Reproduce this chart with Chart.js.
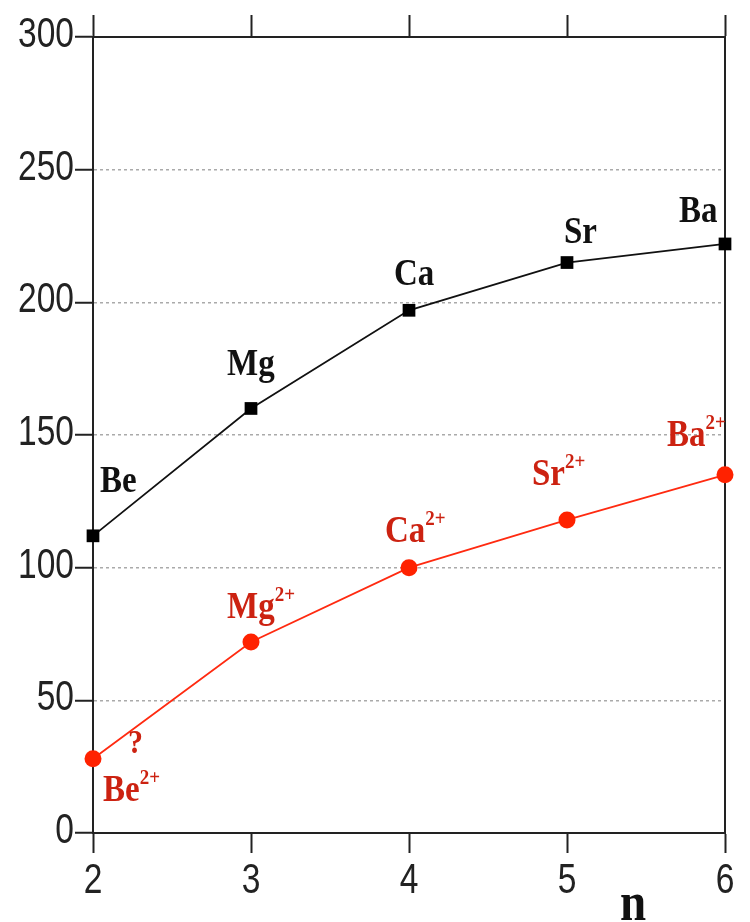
<!DOCTYPE html>
<html>
<head>
<meta charset="utf-8">
<script src="https://cdn.jsdelivr.net/npm/chart.js@4"></script>
<style>
  html, body { margin: 0; padding: 0; background: #fff; }
  #wrap { width: 750px; height: 922px; position: relative; }
</style>
</head>
<body>
<div id="wrap"><canvas id="chart"></canvas></div>
<script>
// valores
const nValues = [2, 3, 4, 5, 6];
const atomLabels = ['Be', 'Mg', 'Ca', 'Sr', 'Ba'];
const atomValues = [112, 160, 197, 215, 222];
const ionLabels = ['Be', 'Mg', 'Ca', 'Sr', 'Ba'];
const ionCharge = '2+';
const ionValues = [28, 72, 100, 118, 135];
const yTicks = [0, 50, 100, 150, 200, 250, 300];
const xTicks = [2, 3, 4, 5, 6];
const axisTitle = 'n';

const axisColor = '#222';
const redLine = '#ff2a10';
const redText = '#cc2211';

// deslocamento dos rótulos em relação ao ponto (texto, linha de base)
const atomOffsets = [[7, -44], [-24, -33], [-15, -25], [-3, -20], [-46, -22]];
const ionOffsets = [[10, 42], [-24, -24], [-24, -26], [-35, -35], [-58, -29]];

const stretch = 1.15;

// texto esticado (a figura original é mais alta que larga)
function drawText(ctx, text, x, y, font, sx = 1, sy = stretch) {
	ctx.save();
	ctx.font = font;
	ctx.translate(x, y);
	ctx.scale(sx, sy);
	ctx.fillText(text, 0, 0);
	const w = ctx.measureText(text).width * sx;
	ctx.restore();
	return w;
}

// rótulos dos eixos desenhados com fonte estreita
const tickLabelsPlugin = {
	id: 'narrowTicks',
	afterDraw(chart) {
		const ctx = chart.ctx;
		const tickFont = '43px "Liberation Sans", Arial, sans-serif';
		const area = chart.chartArea;
		ctx.save();
		ctx.fillStyle = axisColor;
		ctx.textBaseline = 'alphabetic';

		ctx.textAlign = 'right';
		for (const t of chart.scales.y.ticks) {
			const y = chart.scales.y.getPixelForValue(t.value);
			drawText(ctx, String(t.value), area.left - 19, y + 10, tickFont, 0.78, 1);
		}

		ctx.textAlign = 'center';
		for (const t of chart.scales.x.ticks) {
			const x = chart.scales.x.getPixelForValue(t.value);
			drawText(ctx, String(t.value), x, area.bottom + 60, tickFont, 0.78, 1);
		}
		ctx.restore();
	}
};

const labelsPlugin = {
	id: 'pointLabels',
	afterDatasetsDraw(chart) {
		const ctx = chart.ctx;
		ctx.save();
		ctx.textAlign = 'left';
		ctx.textBaseline = 'alphabetic';

		// átomos neutros
		ctx.fillStyle = '#111';
		chart.getDatasetMeta(0).data.forEach((pt, i) => {
			const [dx, dy] = atomOffsets[i];
			drawText(ctx, atomLabels[i], pt.x + dx, pt.y + dy, 'bold 33px "Liberation Serif", serif');
		});

		// íons
		ctx.fillStyle = redText;
		chart.getDatasetMeta(1).data.forEach((pt, i) => {
			const [dx, dy] = ionOffsets[i];
			const w = drawText(ctx, ionLabels[i], pt.x + dx, pt.y + dy, 'bold 33px "Liberation Serif", serif');
			drawText(ctx, ionCharge, pt.x + dx + w, pt.y + dy - 17, 'bold 19px "Liberation Serif", serif');
		});

		// ponto de interrogação sobre o primeiro segmento
		const first = chart.getDatasetMeta(1).data[0];
		drawText(ctx, '?', first.x + 35, first.y - 6, 'bold 30px "Liberation Serif", serif');

		// título do eixo x
		ctx.fillStyle = '#111';
		const area = chart.chartArea;
		drawText(ctx, axisTitle, area.right - 105, chart.height - 2, 'bold 47px "Liberation Serif", serif');
		ctx.restore();
	}
};

const data = {
	datasets: [{
		label: 'M',
		data: nValues.map((n, i) => ({ x: n, y: atomValues[i] })),
		borderColor: '#111',
		backgroundColor: '#000',
		borderWidth: 1.8,
		pointStyle: 'rect',
		pointRadius: 9,
		pointBorderWidth: 0,
		clip: false
	}, {
		label: 'M2+',
		data: nValues.map((n, i) => ({ x: n, y: ionValues[i] })),
		borderColor: redLine,
		backgroundColor: '#ff2200',
		borderWidth: 1.8,
		pointStyle: 'circle',
		pointRadius: 8.5,
		pointBorderWidth: 0,
		clip: false
	}]
};

const config = {
	type: 'line',
	data,
	plugins: [labelsPlugin, tickLabelsPlugin],
	options: {
		responsive: true,
		maintainAspectRatio: false,
		animation: false,
		layout: { padding: 0 },
		plugins: { legend: { display: false }, tooltip: { enabled: false } },
		scales: {
			x: {
				type: 'linear',
				position: 'bottom',
				min: 2,
				max: 6,
				afterBuildTicks: s => { s.ticks = xTicks.map(v => ({ value: v })); },
				ticks: { display: false },
				grid: { drawOnChartArea: false, tickLength: 20, tickColor: axisColor, tickWidth: 2, tickBorderDash: [] },
				border: { color: axisColor, width: 2 },
				afterFit: s => { s.height = 89; }
			},
			xTop: {
				type: 'linear',
				position: 'top',
				min: 2,
				max: 6,
				afterBuildTicks: s => { s.ticks = xTicks.map(v => ({ value: v })); },
				ticks: { display: false },
				grid: { drawOnChartArea: false, tickLength: 22, tickColor: axisColor, tickWidth: 2, tickBorderDash: [] },
				border: { color: axisColor, width: 2 },
				afterFit: s => { s.height = 37; }
			},
			y: {
				min: 0,
				max: 300,
				afterBuildTicks: s => { s.ticks = yTicks.map(v => ({ value: v })); },
				ticks: { display: false },
				grid: {
					color: ctx => (ctx.tick && (ctx.tick.value === 0 || ctx.tick.value === 300)) ? 'rgba(0,0,0,0)' : '#aaa',
					lineWidth: 1.5,
					tickLength: 18,
					tickColor: axisColor,
					tickWidth: 2,
					tickBorderDash: []
				},
				border: { color: axisColor, width: 2, dash: [3, 3] },
				afterFit: s => { s.width = 93; }
			},
			yRight: {
				position: 'right',
				min: 0,
				max: 300,
				ticks: { display: false },
				grid: { display: false },
				border: { color: axisColor, width: 2 },
				afterFit: s => { s.width = 25; }
			}
		}
	}
};

new Chart(document.getElementById('chart'), config);
</script>
</body>
</html>
